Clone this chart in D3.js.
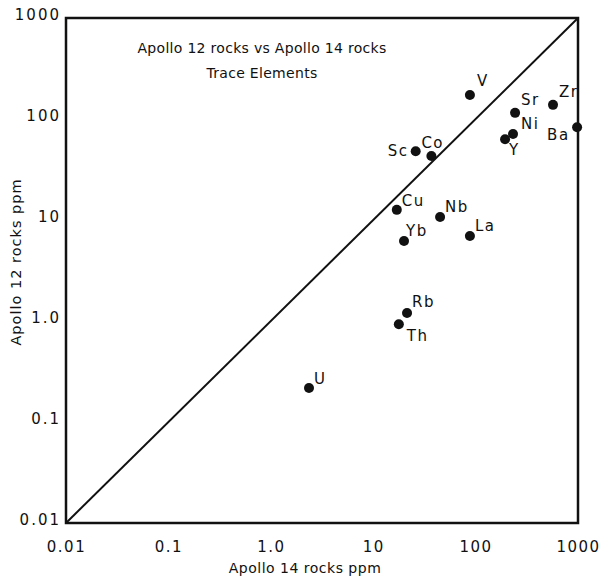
<!DOCTYPE html>
<html><head><meta charset="utf-8">
<script src="https://cdn.jsdelivr.net/npm/d3@7"></script>
<style>body{margin:0;background:#fff}svg text{font-family:"DejaVu Sans",sans-serif;fill:#111}</style>
</head><body><svg id="c" width="606" height="579"></svg>
<script>
const elements = ["V","Sr","Zr","Ni","Y","Ba","Sc","Co","Cu","Nb","Yb","La","Rb","Th","U"];
const apollo14 = [88,243,570,232,194,980,26,37,17,45,20,88,21.4,17.8,2.36];
const apollo12 = [173,115,138,71,63,83,48,43,12.6,10.7,6.2,6.95,1.2,0.93,0.217];
// label placement: dx, dy, anchor
const labelPos = {V:[7,-9,"start"],Sr:[6,-8,"start"],Zr:[6,-8,"start"],Ni:[8,-5,"start"],Y:[4,16,"start"],
  Ba:[-30,13,"start"],Sc:[-28,5,"start"],Co:[-10,-8,"start"],Cu:[5,-4,"start"],Nb:[5,-5,"start"],Yb:[2,-5,"start"],
  La:[5,-5,"start"],Rb:[5,-6,"start"],Th:[8,17,"start"],U:[5,-4,"start"]};
const tickVals = [0.01,0.1,1,10,100,1000];
const tickLabels = ["0.01","0.1","1.0","10","100","1000"];

const svg = d3.select("#c");
const L=66,R=578,T=18,B=523;
const x = d3.scaleLog().domain([0.01,1000]).range([L,R]);
const y = d3.scaleLog().domain([0.01,1000]).range([B,T]);

svg.append("rect").attr("x",L).attr("y",T).attr("width",R-L).attr("height",B-T)
  .attr("fill","none").attr("stroke","#111").attr("stroke-width",2.5);
svg.append("line").attr("x1",x(0.01)).attr("y1",y(0.01)).attr("x2",x(1000)).attr("y2",y(1000))
  .attr("stroke","#111").attr("stroke-width",2);

const xa = d3.axisBottom(x).tickValues(tickVals).tickFormat((d,i)=>tickLabels[i]).tickSize(0).tickPadding(18);
const gx = svg.append("g").attr("transform",`translate(0,${B})`).call(xa);
gx.select(".domain").remove();
gx.selectAll("text").attr("font-size",15).attr("font-family","DejaVu Sans").attr("fill","#111").attr("letter-spacing",1.5);
const ya = d3.axisLeft(y).tickValues(tickVals).tickFormat((d,i)=>tickLabels[i]).tickSize(0).tickPadding(5);
const gy = svg.append("g").attr("transform",`translate(${L},0)`).call(ya);
gy.select(".domain").remove();
gy.selectAll("text").attr("font-size",15).attr("font-family","DejaVu Sans").attr("fill","#111").attr("letter-spacing",2).attr("dy","0.1em");

const data = elements.map((e,i)=>({e,a:apollo14[i],b:apollo12[i]}));
svg.selectAll("circle.p").data(data).enter().append("circle").attr("class","p")
  .attr("cx",d=>x(d.a)).attr("cy",d=>y(d.b)).attr("r",5).attr("fill","#111");
svg.selectAll("text.l").data(data).enter().append("text").attr("class","l")
  .attr("x",d=>x(d.a)+labelPos[d.e][0]).attr("y",d=>y(d.b)+labelPos[d.e][1])
  .attr("text-anchor",d=>labelPos[d.e][2]).attr("font-size",15).attr("letter-spacing",1.5).text(d=>d.e);

svg.append("text").attr("x",262).attr("y",53).attr("text-anchor","middle").attr("font-size",14).attr("letter-spacing",0.3)
  .text("Apollo 12 rocks vs Apollo 14 rocks");
svg.append("text").attr("x",262).attr("y",78).attr("text-anchor","middle").attr("font-size",14).attr("letter-spacing",0.3)
  .text("Trace Elements");
svg.append("text").attr("x",305).attr("y",573).attr("text-anchor","middle").attr("font-size",14).attr("letter-spacing",0.5)
  .text("Apollo 14 rocks ppm");
svg.append("text").attr("transform","translate(21,262) rotate(-90)").attr("text-anchor","middle").attr("font-size",14.5).attr("letter-spacing",1)
  .text("Apollo 12 rocks ppm");
</script></body></html>
